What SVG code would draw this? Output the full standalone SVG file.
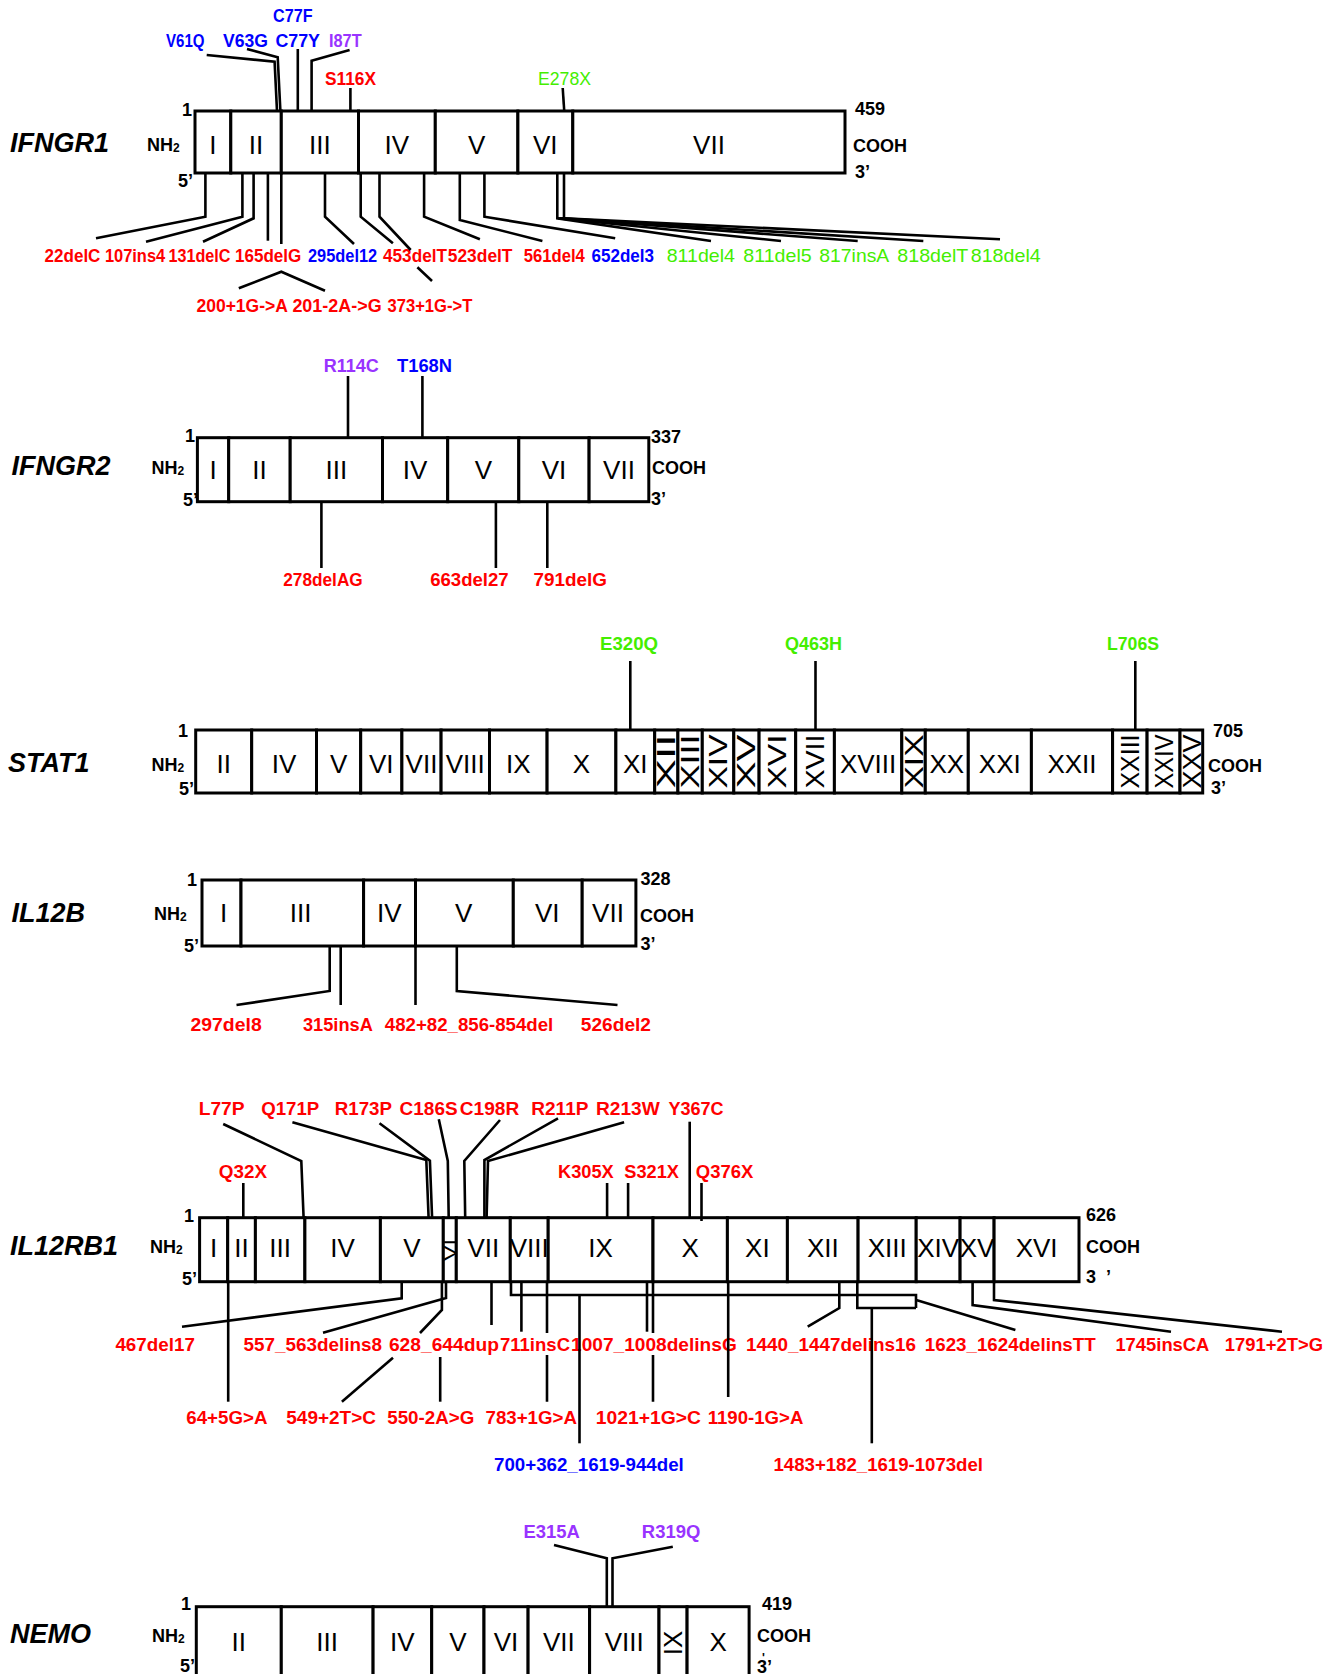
<svg xmlns="http://www.w3.org/2000/svg" width="1340" height="1674" viewBox="0 0 1340 1674">
<style>
text{font-family:"Liberation Sans",Arial,sans-serif}
.bx{fill:#fff;stroke:#000;stroke-width:3}
.ex{font-size:26px;text-anchor:middle}
.gn{font-size:27px;font-weight:bold;font-style:italic}
.tm{font-size:18px;font-weight:bold}
.tm .s{font-size:12px}
.e{text-anchor:end}
.m{font-size:19px;font-weight:bold}
.m.sm{font-size:17.5px}
.mr{font-size:19px}
.r{fill:#ff0000}.b{fill:#0000ff}.g{fill:#44ee00}.p{fill:#9933ff}
.ln{stroke:#000;stroke-width:2.6;fill:none;stroke-linejoin:miter}
</style>

<g id="IFNGR1">
<rect class="bx" x="195" y="111" width="35.8" height="62"/>
<rect class="bx" x="230.8" y="111" width="50.5" height="62"/>
<rect class="bx" x="281.3" y="111" width="77.2" height="62"/>
<rect class="bx" x="358.5" y="111" width="76.8" height="62"/>
<rect class="bx" x="435.3" y="111" width="82.6" height="62"/>
<rect class="bx" x="517.9" y="111" width="54.9" height="62"/>
<rect class="bx" x="572.8" y="111" width="272.2" height="62"/>
<text class="ex" x="212.9" y="154">I</text>
<text class="ex" x="256" y="154">II</text>
<text class="ex" x="319.9" y="154">III</text>
<text class="ex" x="396.9" y="154">IV</text>
<text class="ex" x="476.6" y="154">V</text>
<text class="ex" x="545.3" y="154">VI</text>
<text class="ex" x="709" y="154">VII</text>
<text class="gn" x="10" y="152">IFNGR1</text>
<text class="tm" x="147" y="151">NH<tspan class="s" dy="1">2</tspan></text>
<text class="tm e" x="192" y="116">1</text>
<text class="tm e" x="193" y="187">5’</text>
<text class="tm" x="855" y="115">459</text>
<text class="tm" x="853" y="152">COOH</text>
<text class="tm" x="855" y="178">3’</text>
</g>
<g id="IFNGR1-mutations">
<text class="m b" x="273" y="22" textLength="39.5" lengthAdjust="spacingAndGlyphs">C77F</text>
<text class="m b" x="166" y="47" textLength="38.5" lengthAdjust="spacingAndGlyphs">V61Q</text>
<text class="m b" x="223" y="47" textLength="45" lengthAdjust="spacingAndGlyphs">V63G</text>
<text class="m b" x="275.4" y="47" textLength="44.6" lengthAdjust="spacingAndGlyphs">C77Y</text>
<text class="m p" x="329" y="47" textLength="32.6" lengthAdjust="spacingAndGlyphs">I87T</text>
<text class="m r" x="325" y="85" textLength="51" lengthAdjust="spacingAndGlyphs">S116X</text>
<text class="mr g" x="538" y="85" textLength="53" lengthAdjust="spacingAndGlyphs">E278X</text>
<text class="m sm r" x="44.6" y="262" textLength="55.8" lengthAdjust="spacingAndGlyphs">22delC</text>
<text class="m sm r" x="104.9" y="262" textLength="60.3" lengthAdjust="spacingAndGlyphs">107ins4</text>
<text class="m sm r" x="168.5" y="262" textLength="62" lengthAdjust="spacingAndGlyphs">131delC</text>
<text class="m sm r" x="235" y="262" textLength="66.3" lengthAdjust="spacingAndGlyphs">165delG</text>
<text class="m sm b" x="308" y="262" textLength="69.2" lengthAdjust="spacingAndGlyphs">295del12</text>
<text class="m sm r" x="383" y="262" textLength="64" lengthAdjust="spacingAndGlyphs">453delT</text>
<text class="m sm r" x="447.8" y="262" textLength="64.7" lengthAdjust="spacingAndGlyphs">523delT</text>
<text class="m sm r" x="523.7" y="262" textLength="61.1" lengthAdjust="spacingAndGlyphs">561del4</text>
<text class="m sm b" x="591.5" y="262" textLength="62.5" lengthAdjust="spacingAndGlyphs">652del3</text>
<text class="mr g" x="666.7" y="262" textLength="68.3" lengthAdjust="spacingAndGlyphs">811del4</text>
<text class="mr g" x="743.3" y="262" textLength="68.4" lengthAdjust="spacingAndGlyphs">811del5</text>
<text class="mr g" x="819.3" y="262" textLength="70" lengthAdjust="spacingAndGlyphs">817insA</text>
<text class="mr g" x="897.3" y="262" textLength="71" lengthAdjust="spacingAndGlyphs">818delT</text>
<text class="mr g" x="970.7" y="262" textLength="70" lengthAdjust="spacingAndGlyphs">818del4</text>
<text class="m r" x="196.4" y="312" textLength="91.6" lengthAdjust="spacingAndGlyphs">200+1G-&gt;A</text>
<text class="m r" x="292.4" y="312" textLength="89.3" lengthAdjust="spacingAndGlyphs">201-2A-&gt;G</text>
<text class="m r" x="387.5" y="312" textLength="84.8" lengthAdjust="spacingAndGlyphs">373+1G-&gt;T</text>
</g>

<g id="IFNGR2">
<rect class="bx" x="197.4" y="437.7" width="31.3" height="64"/>
<rect class="bx" x="228.7" y="437.7" width="61.5" height="64"/>
<rect class="bx" x="290.2" y="437.7" width="92.3" height="64"/>
<rect class="bx" x="382.5" y="437.7" width="65.2" height="64"/>
<rect class="bx" x="447.7" y="437.7" width="71.1" height="64"/>
<rect class="bx" x="518.8" y="437.7" width="70.3" height="64"/>
<rect class="bx" x="589.1" y="437.7" width="59.7" height="64"/>
<text class="ex" x="213" y="479">I</text>
<text class="ex" x="259.5" y="479">II</text>
<text class="ex" x="336.4" y="479">III</text>
<text class="ex" x="415.1" y="479">IV</text>
<text class="ex" x="483.3" y="479">V</text>
<text class="ex" x="554" y="479">VI</text>
<text class="ex" x="619" y="479">VII</text>
<text class="gn" x="11.5" y="475">IFNGR2</text>
<text class="tm" x="151.5" y="474">NH<tspan class="s" dy="1">2</tspan></text>
<text class="tm e" x="195" y="442">1</text>
<text class="tm e" x="198" y="506">5’</text>
<text class="tm" x="651" y="443">337</text>
<text class="tm" x="652" y="474">COOH</text>
<text class="tm" x="651" y="505">3’</text>
</g>
<g id="IFNGR2-mutations">
<text class="m p" x="323.7" y="372" textLength="55.1" lengthAdjust="spacingAndGlyphs">R114C</text>
<text class="m b" x="397" y="372" textLength="55" lengthAdjust="spacingAndGlyphs">T168N</text>
<text class="m r" x="283.3" y="586" textLength="79.4" lengthAdjust="spacingAndGlyphs">278delAG</text>
<text class="m r" x="430.2" y="586" textLength="78.5" lengthAdjust="spacingAndGlyphs">663del27</text>
<text class="m r" x="533.5" y="586" textLength="73.5" lengthAdjust="spacingAndGlyphs">791delG</text>
</g>

<g id="STAT1">
<rect class="bx" x="195.7" y="730" width="56" height="63"/>
<rect class="bx" x="251.7" y="730" width="64.8" height="63"/>
<rect class="bx" x="316.5" y="730" width="44.2" height="63"/>
<rect class="bx" x="360.7" y="730" width="41.2" height="63"/>
<rect class="bx" x="401.9" y="730" width="39.2" height="63"/>
<rect class="bx" x="441.1" y="730" width="48.4" height="63"/>
<rect class="bx" x="489.5" y="730" width="57.6" height="63"/>
<rect class="bx" x="547.1" y="730" width="68.8" height="63"/>
<rect class="bx" x="615.9" y="730" width="38.8" height="63"/>
<rect class="bx" x="654.7" y="730" width="23.2" height="63"/>
<rect class="bx" x="677.9" y="730" width="24.4" height="63"/>
<rect class="bx" x="702.3" y="730" width="31.5" height="63"/>
<rect class="bx" x="733.8" y="730" width="25.3" height="63"/>
<rect class="bx" x="759.1" y="730" width="36.6" height="63"/>
<rect class="bx" x="795.7" y="730" width="38.7" height="63"/>
<rect class="bx" x="834.4" y="730" width="67.4" height="63"/>
<rect class="bx" x="901.8" y="730" width="23.5" height="63"/>
<rect class="bx" x="925.3" y="730" width="43" height="63"/>
<rect class="bx" x="968.3" y="730" width="63.1" height="63"/>
<rect class="bx" x="1031.4" y="730" width="81.2" height="63"/>
<rect class="bx" x="1112.6" y="730" width="34.5" height="63"/>
<rect class="bx" x="1147.1" y="730" width="32.9" height="63"/>
<rect class="bx" x="1180" y="730" width="22.7" height="63"/>
<text class="ex" x="223.7" y="773">II</text>
<text class="ex" x="284.1" y="773">IV</text>
<text class="ex" x="338.6" y="773">V</text>
<text class="ex" x="381.3" y="773">VI</text>
<text class="ex" x="421.5" y="773">VII</text>
<text class="ex" x="465.3" y="773">VIII</text>
<text class="ex" x="518.3" y="773">IX</text>
<text class="ex" x="581.5" y="773">X</text>
<text class="ex" x="635.3" y="773">XI</text>
<text class="ex" transform="translate(666.3,761.5) rotate(-90)" y="9" textLength="54" lengthAdjust="spacingAndGlyphs">XII</text>
<text class="ex" transform="translate(690.1,761.5) rotate(-90)" y="9" textLength="54" lengthAdjust="spacingAndGlyphs">XIII</text>
<text class="ex" transform="translate(718,761.5) rotate(-90)" y="9" textLength="54" lengthAdjust="spacingAndGlyphs">XIV</text>
<text class="ex" transform="translate(746.4,761.5) rotate(-90)" y="9" textLength="54" lengthAdjust="spacingAndGlyphs">XV</text>
<text class="ex" transform="translate(777.4,761.5) rotate(-90)" y="9" textLength="54" lengthAdjust="spacingAndGlyphs">XVI</text>
<text class="ex" transform="translate(815,761.5) rotate(-90)" y="9" textLength="54" lengthAdjust="spacingAndGlyphs">XVII</text>
<text class="ex" x="868.1" y="773">XVIII</text>
<text class="ex" transform="translate(913.5,761.5) rotate(-90)" y="9" textLength="54" lengthAdjust="spacingAndGlyphs">XIX</text>
<text class="ex" x="946.8" y="773">XX</text>
<text class="ex" x="999.8" y="773">XXI</text>
<text class="ex" x="1072" y="773">XXII</text>
<text class="ex" transform="translate(1129.8,761.5) rotate(-90)" y="9" textLength="54" lengthAdjust="spacingAndGlyphs">XXIII</text>
<text class="ex" transform="translate(1163.5,761.5) rotate(-90)" y="9" textLength="54" lengthAdjust="spacingAndGlyphs">XXIV</text>
<text class="ex" transform="translate(1191.8,761.5) rotate(-90)" y="9" textLength="54" lengthAdjust="spacingAndGlyphs">XXV</text>
<text class="gn" x="8" y="772">STAT1</text>
<text class="tm" x="151.5" y="771">NH<tspan class="s" dy="1">2</tspan></text>
<text class="tm e" x="188" y="737">1</text>
<text class="tm e" x="194" y="795">5’</text>
<text class="tm" x="1213" y="737">705</text>
<text class="tm" x="1208" y="772">COOH</text>
<text class="tm" x="1211" y="794">3’</text>
</g>
<g id="STAT1-mutations">
<text class="m g" x="600" y="650" textLength="58" lengthAdjust="spacingAndGlyphs">E320Q</text>
<text class="m g" x="785" y="650" textLength="57" lengthAdjust="spacingAndGlyphs">Q463H</text>
<text class="m g" x="1107" y="650" textLength="52" lengthAdjust="spacingAndGlyphs">L706S</text>
</g>

<g id="IL12B">
<rect class="bx" x="202" y="880" width="39" height="66"/>
<rect class="bx" x="241" y="880" width="122.6" height="66"/>
<rect class="bx" x="363.6" y="880" width="51.9" height="66"/>
<rect class="bx" x="415.5" y="880" width="97.8" height="66"/>
<rect class="bx" x="513.3" y="880" width="68.9" height="66"/>
<rect class="bx" x="582.2" y="880" width="53.7" height="66"/>
<text class="ex" x="223.6" y="922">I</text>
<text class="ex" x="300.7" y="922">III</text>
<text class="ex" x="389.3" y="922">IV</text>
<text class="ex" x="463.7" y="922">V</text>
<text class="ex" x="547.3" y="922">VI</text>
<text class="ex" x="608" y="922">VII</text>
<text class="gn" x="11.5" y="922">IL12B</text>
<text class="tm" x="154" y="920">NH<tspan class="s" dy="1">2</tspan></text>
<text class="tm e" x="197" y="886">1</text>
<text class="tm e" x="199" y="952">5’</text>
<text class="tm" x="640.5" y="885">328</text>
<text class="tm" x="640" y="922">COOH</text>
<text class="tm" x="640.5" y="950">3’</text>
</g>
<g id="IL12B-mutations">
<text class="m r" x="190.5" y="1031" textLength="71.2" lengthAdjust="spacingAndGlyphs">297del8</text>
<text class="m r" x="303" y="1031" textLength="69.8" lengthAdjust="spacingAndGlyphs">315insA</text>
<text class="m r" x="384.8" y="1031" textLength="168.5" lengthAdjust="spacingAndGlyphs">482+82_856-854del</text>
<text class="m r" x="580.8" y="1031" textLength="70.2" lengthAdjust="spacingAndGlyphs">526del2</text>
</g>

<g id="IL12RB1">
<rect class="bx" x="199.6" y="1217.7" width="28.1" height="64"/>
<rect class="bx" x="227.7" y="1217.7" width="27.7" height="64"/>
<rect class="bx" x="255.4" y="1217.7" width="49.5" height="64"/>
<rect class="bx" x="304.9" y="1217.7" width="75.5" height="64"/>
<rect class="bx" x="380.4" y="1217.7" width="62.9" height="64"/>
<rect class="bx" x="443.3" y="1217.7" width="13" height="64"/>
<rect class="bx" x="456.3" y="1217.7" width="54" height="64"/>
<rect class="bx" x="510.3" y="1217.7" width="37.9" height="64"/>
<rect class="bx" x="548.2" y="1217.7" width="104.8" height="64"/>
<rect class="bx" x="653" y="1217.7" width="74.4" height="64"/>
<rect class="bx" x="727.4" y="1217.7" width="60" height="64"/>
<rect class="bx" x="787.4" y="1217.7" width="70.7" height="64"/>
<rect class="bx" x="858.1" y="1217.7" width="58.1" height="64"/>
<rect class="bx" x="916.2" y="1217.7" width="43.9" height="64"/>
<rect class="bx" x="960.1" y="1217.7" width="34" height="64"/>
<rect class="bx" x="994.1" y="1217.7" width="84.9" height="64"/>
<text class="ex" x="213.6" y="1257">I</text>
<text class="ex" x="241.5" y="1257">II</text>
<text class="ex" x="280.1" y="1257">III</text>
<text class="ex" x="342.6" y="1257">IV</text>
<text class="ex" x="411.8" y="1257">V</text>
<text class="ex" style="font-size:17px" transform="translate(449.8,1250) rotate(-90)" y="6" textLength="22" lengthAdjust="spacingAndGlyphs">VI</text>
<text class="ex" x="483.3" y="1257">VII</text>
<text class="ex" x="529.3" y="1257">VIII</text>
<text class="ex" x="600.6" y="1257">IX</text>
<text class="ex" x="690.2" y="1257">X</text>
<text class="ex" x="757.4" y="1257">XI</text>
<text class="ex" x="822.8" y="1257">XII</text>
<text class="ex" x="887.2" y="1257">XIII</text>
<text class="ex" x="938.2" y="1257">XIV</text>
<text class="ex" x="977.1" y="1257">XV</text>
<text class="ex" x="1036.6" y="1257">XVI</text>
<text class="gn" x="10" y="1255">IL12RB1</text>
<text class="tm" x="150" y="1253">NH<tspan class="s" dy="1">2</tspan></text>
<text class="tm e" x="194" y="1222">1</text>
<text class="tm e" x="197" y="1285">5’</text>
<text class="tm" x="1086" y="1221">626</text>
<text class="tm" x="1086" y="1253">COOH</text>
<text class="tm" x="1086" y="1283" xml:space="preserve">3  ’</text>
</g>
<g id="IL12RB1-mutations">
<text class="m r" x="198.7" y="1115" textLength="45.9" lengthAdjust="spacingAndGlyphs">L77P</text>
<text class="m r" x="261.2" y="1115" textLength="58" lengthAdjust="spacingAndGlyphs">Q171P</text>
<text class="m r" x="334.8" y="1115" textLength="57.2" lengthAdjust="spacingAndGlyphs">R173P</text>
<text class="m r" x="399.6" y="1115" textLength="58" lengthAdjust="spacingAndGlyphs">C186S</text>
<text class="m r" x="459.8" y="1115" textLength="59.4" lengthAdjust="spacingAndGlyphs">C198R</text>
<text class="m r" x="531.3" y="1115" textLength="57.1" lengthAdjust="spacingAndGlyphs">R211P</text>
<text class="m r" x="596" y="1115" textLength="63.8" lengthAdjust="spacingAndGlyphs">R213W</text>
<text class="m r" x="668.4" y="1115" textLength="55.2" lengthAdjust="spacingAndGlyphs">Y367C</text>
<text class="m r" x="218.8" y="1178" textLength="48.2" lengthAdjust="spacingAndGlyphs">Q32X</text>
<text class="m r" x="558" y="1178" textLength="55.8" lengthAdjust="spacingAndGlyphs">K305X</text>
<text class="m r" x="624.3" y="1178" textLength="54.7" lengthAdjust="spacingAndGlyphs">S321X</text>
<text class="m r" x="695.8" y="1178" textLength="57.6" lengthAdjust="spacingAndGlyphs">Q376X</text>
<text class="m r" x="115.4" y="1351" textLength="79.5" lengthAdjust="spacingAndGlyphs">467del17</text>
<text class="m r" x="243.6" y="1351" textLength="138.4" lengthAdjust="spacingAndGlyphs">557_563delins8</text>
<text class="m r" x="388.9" y="1351" textLength="110" lengthAdjust="spacingAndGlyphs">628_644dup</text>
<text class="m r" x="500" y="1351" textLength="70" lengthAdjust="spacingAndGlyphs">711insC</text>
<text class="m r" x="571" y="1351" textLength="165.8" lengthAdjust="spacingAndGlyphs">1007_1008delinsG</text>
<text class="m r" x="746" y="1351" textLength="170" lengthAdjust="spacingAndGlyphs">1440_1447delins16</text>
<text class="m r" x="924.8" y="1351" textLength="170.9" lengthAdjust="spacingAndGlyphs">1623_1624delinsTT</text>
<text class="m r" x="1115.4" y="1351" textLength="94" lengthAdjust="spacingAndGlyphs">1745insCA</text>
<text class="m r" x="1224.8" y="1351" textLength="98.2" lengthAdjust="spacingAndGlyphs">1791+2T&gt;G</text>
<text class="m r" x="186.3" y="1424" textLength="81.2" lengthAdjust="spacingAndGlyphs">64+5G&gt;A</text>
<text class="m r" x="286.3" y="1424" textLength="89.7" lengthAdjust="spacingAndGlyphs">549+2T&gt;C</text>
<text class="m r" x="387.2" y="1424" textLength="87.2" lengthAdjust="spacingAndGlyphs">550-2A&gt;G</text>
<text class="m r" x="485.5" y="1424" textLength="91.5" lengthAdjust="spacingAndGlyphs">783+1G&gt;A</text>
<text class="m r" x="595.7" y="1424" textLength="105.2" lengthAdjust="spacingAndGlyphs">1021+1G&gt;C</text>
<text class="m r" x="707.7" y="1424" textLength="95.7" lengthAdjust="spacingAndGlyphs">1190-1G&gt;A</text>
<text class="m b" x="494" y="1470.5" textLength="189.8" lengthAdjust="spacingAndGlyphs">700+362_1619-944del</text>
<text class="m r" x="773.5" y="1470.5" textLength="209.5" lengthAdjust="spacingAndGlyphs">1483+182_1619-1073del</text>
</g>

<g id="NEMO">
<rect class="bx" x="196.3" y="1606.7" width="85" height="75"/>
<rect class="bx" x="281.3" y="1606.7" width="91.8" height="75"/>
<rect class="bx" x="373.1" y="1606.7" width="58.6" height="75"/>
<rect class="bx" x="431.7" y="1606.7" width="52.3" height="75"/>
<rect class="bx" x="484" y="1606.7" width="44.1" height="75"/>
<rect class="bx" x="528.1" y="1606.7" width="61.5" height="75"/>
<rect class="bx" x="589.6" y="1606.7" width="69.4" height="75"/>
<rect class="bx" x="659" y="1606.7" width="28.1" height="75"/>
<rect class="bx" x="687.1" y="1606.7" width="62" height="75"/>
<text class="ex" x="238.8" y="1651">II</text>
<text class="ex" x="327.2" y="1651">III</text>
<text class="ex" x="402.4" y="1651">IV</text>
<text class="ex" x="457.9" y="1651">V</text>
<text class="ex" x="506" y="1651">VI</text>
<text class="ex" x="558.9" y="1651">VII</text>
<text class="ex" x="624.3" y="1651">VIII</text>
<text class="ex" transform="translate(673,1643) rotate(-90)" y="9">IX</text>
<text class="ex" x="718.1" y="1651">X</text>
<text class="gn" x="10" y="1643">NEMO</text>
<text class="tm" x="152" y="1642">NH<tspan class="s" dy="1">2</tspan></text>
<text class="tm e" x="191" y="1610">1</text>
<text class="tm e" x="195" y="1672">5’</text>
<text class="tm" x="762" y="1610">419</text>
<text class="tm" x="757" y="1642">COOH</text>
<text class="tm" style="font-size:12px" x="762" y="1662">'</text>
<text class="tm" x="757" y="1673">3’</text>
</g>
<g id="NEMO-mutations">
<text class="m p" x="523.5" y="1538" textLength="56.3" lengthAdjust="spacingAndGlyphs">E315A</text>
<text class="m p" x="641.8" y="1538" textLength="58.5" lengthAdjust="spacingAndGlyphs">R319Q</text>
</g>

<g id="connectors" class="ln">
<path d="M206.7,55 L274.6,61.7 L277,111"/>
<path d="M247,49 L277.7,57.3 L280.4,111"/>
<path d="M297.8,49 V111"/>
<path d="M349.6,50 L311.6,60.7 V111"/>
<path d="M350.4,88 V111"/>
<path d="M562.7,88 L564.3,112"/>
<path d="M205.4,174 V216.7 L96,238.3"/>
<path d="M242.4,174 V216.7 L146,241.7"/>
<path d="M253.6,174 V218.3 L203,241.7"/>
<path d="M267.9,174 V240.7"/>
<path d="M281.3,174 V244"/>
<path d="M238.8,288.3 L281.3,271.7 L325,290.7"/>
<path d="M325,174 V216.7 L354,244"/>
<path d="M360.7,174 V216.7 L392.9,243.3"/>
<path d="M379.5,174 V216.7 L410.7,250"/>
<path d="M417.4,267.3 L432,281"/>
<path d="M424.1,174 V216.7 L479.9,239.3"/>
<path d="M459.8,174 V220 L542.4,241"/>
<path d="M484.4,174 V216.7 L615.2,238.3"/>
<path d="M557.3,174 V218.3 L711,241"/>
<path d="M564,174 V218.3 L1000,239.3"/>
<path d="M558,218.3 L781,241"/>
<path d="M560,218.3 L857.7,241"/>
<path d="M562,218.3 L923.3,241"/>
<path d="M348,376 V437.7"/>
<path d="M422.4,376 V437.7"/>
<path d="M321.4,501.7 V568"/>
<path d="M495.9,501.7 V568"/>
<path d="M547.3,501.7 V568"/>
<path d="M630.3,661 V730"/>
<path d="M815.5,661 V730"/>
<path d="M1135.3,661 V730"/>
<path d="M329.7,946 V991 L236.5,1005"/>
<path d="M340.7,946 V1005"/>
<path d="M415.5,946 V1005"/>
<path d="M456.8,946 V991 L617.5,1005"/>
<path d="M243.3,1183 V1217.7"/>
<path d="M223.2,1124 L301.3,1161 L303.6,1217.7"/>
<path d="M292.4,1122.3 L426.3,1160 L428.6,1217.7"/>
<path d="M379.5,1123.3 L429.9,1160.7 L432.1,1217.7"/>
<path d="M438.8,1119.3 L447.8,1161 L448.7,1217.7"/>
<path d="M500,1120 L464.3,1161 L465.2,1217.7"/>
<path d="M558,1118.3 L484.4,1160 V1217.7"/>
<path d="M624.1,1122.3 L488,1161 L486.6,1217.7"/>
<path d="M607.1,1183 V1217.7"/>
<path d="M628.1,1183 V1217.7"/>
<path d="M689.7,1121.7 V1217.7"/>
<path d="M701.5,1183 V1221"/>
<path d="M401.7,1281.7 V1298.3 L182,1326.7"/>
<path d="M228.2,1281.7 V1401.7"/>
<path d="M446,1281.7 V1298 L323,1332.7"/>
<path d="M441.9,1281.7 V1310 L420,1333"/>
<path d="M393,1357.7 L341.9,1401.7"/>
<path d="M440.2,1357 V1401.7"/>
<path d="M491.5,1281.7 V1325"/>
<path d="M521.4,1281.7 V1331.7"/>
<path d="M511,1281.7 V1295 H916 V1308"/>
<path d="M579.5,1295 V1443.3"/>
<path d="M547,1281.7 V1333 M547,1355 V1401.7"/>
<path d="M647,1281.7 V1331.7"/>
<path d="M653,1281.7 V1333 M653,1355 V1401.7"/>
<path d="M728.2,1281.7 V1397"/>
<path d="M857.3,1281.7 V1308 H916"/>
<path d="M839.3,1281.7 V1308 L807.7,1326.7"/>
<path d="M871.8,1308 V1443.3"/>
<path d="M916.2,1300 L1015.4,1330"/>
<path d="M972.6,1281.7 V1305 L1171,1331.7"/>
<path d="M994,1281.7 V1300 L1282,1331.7"/>
<path d="M554,1545 L606.8,1558.3 V1606.7"/>
<path d="M672.8,1546.7 L612.5,1558.3 V1606.7"/>
</g>
</svg>
